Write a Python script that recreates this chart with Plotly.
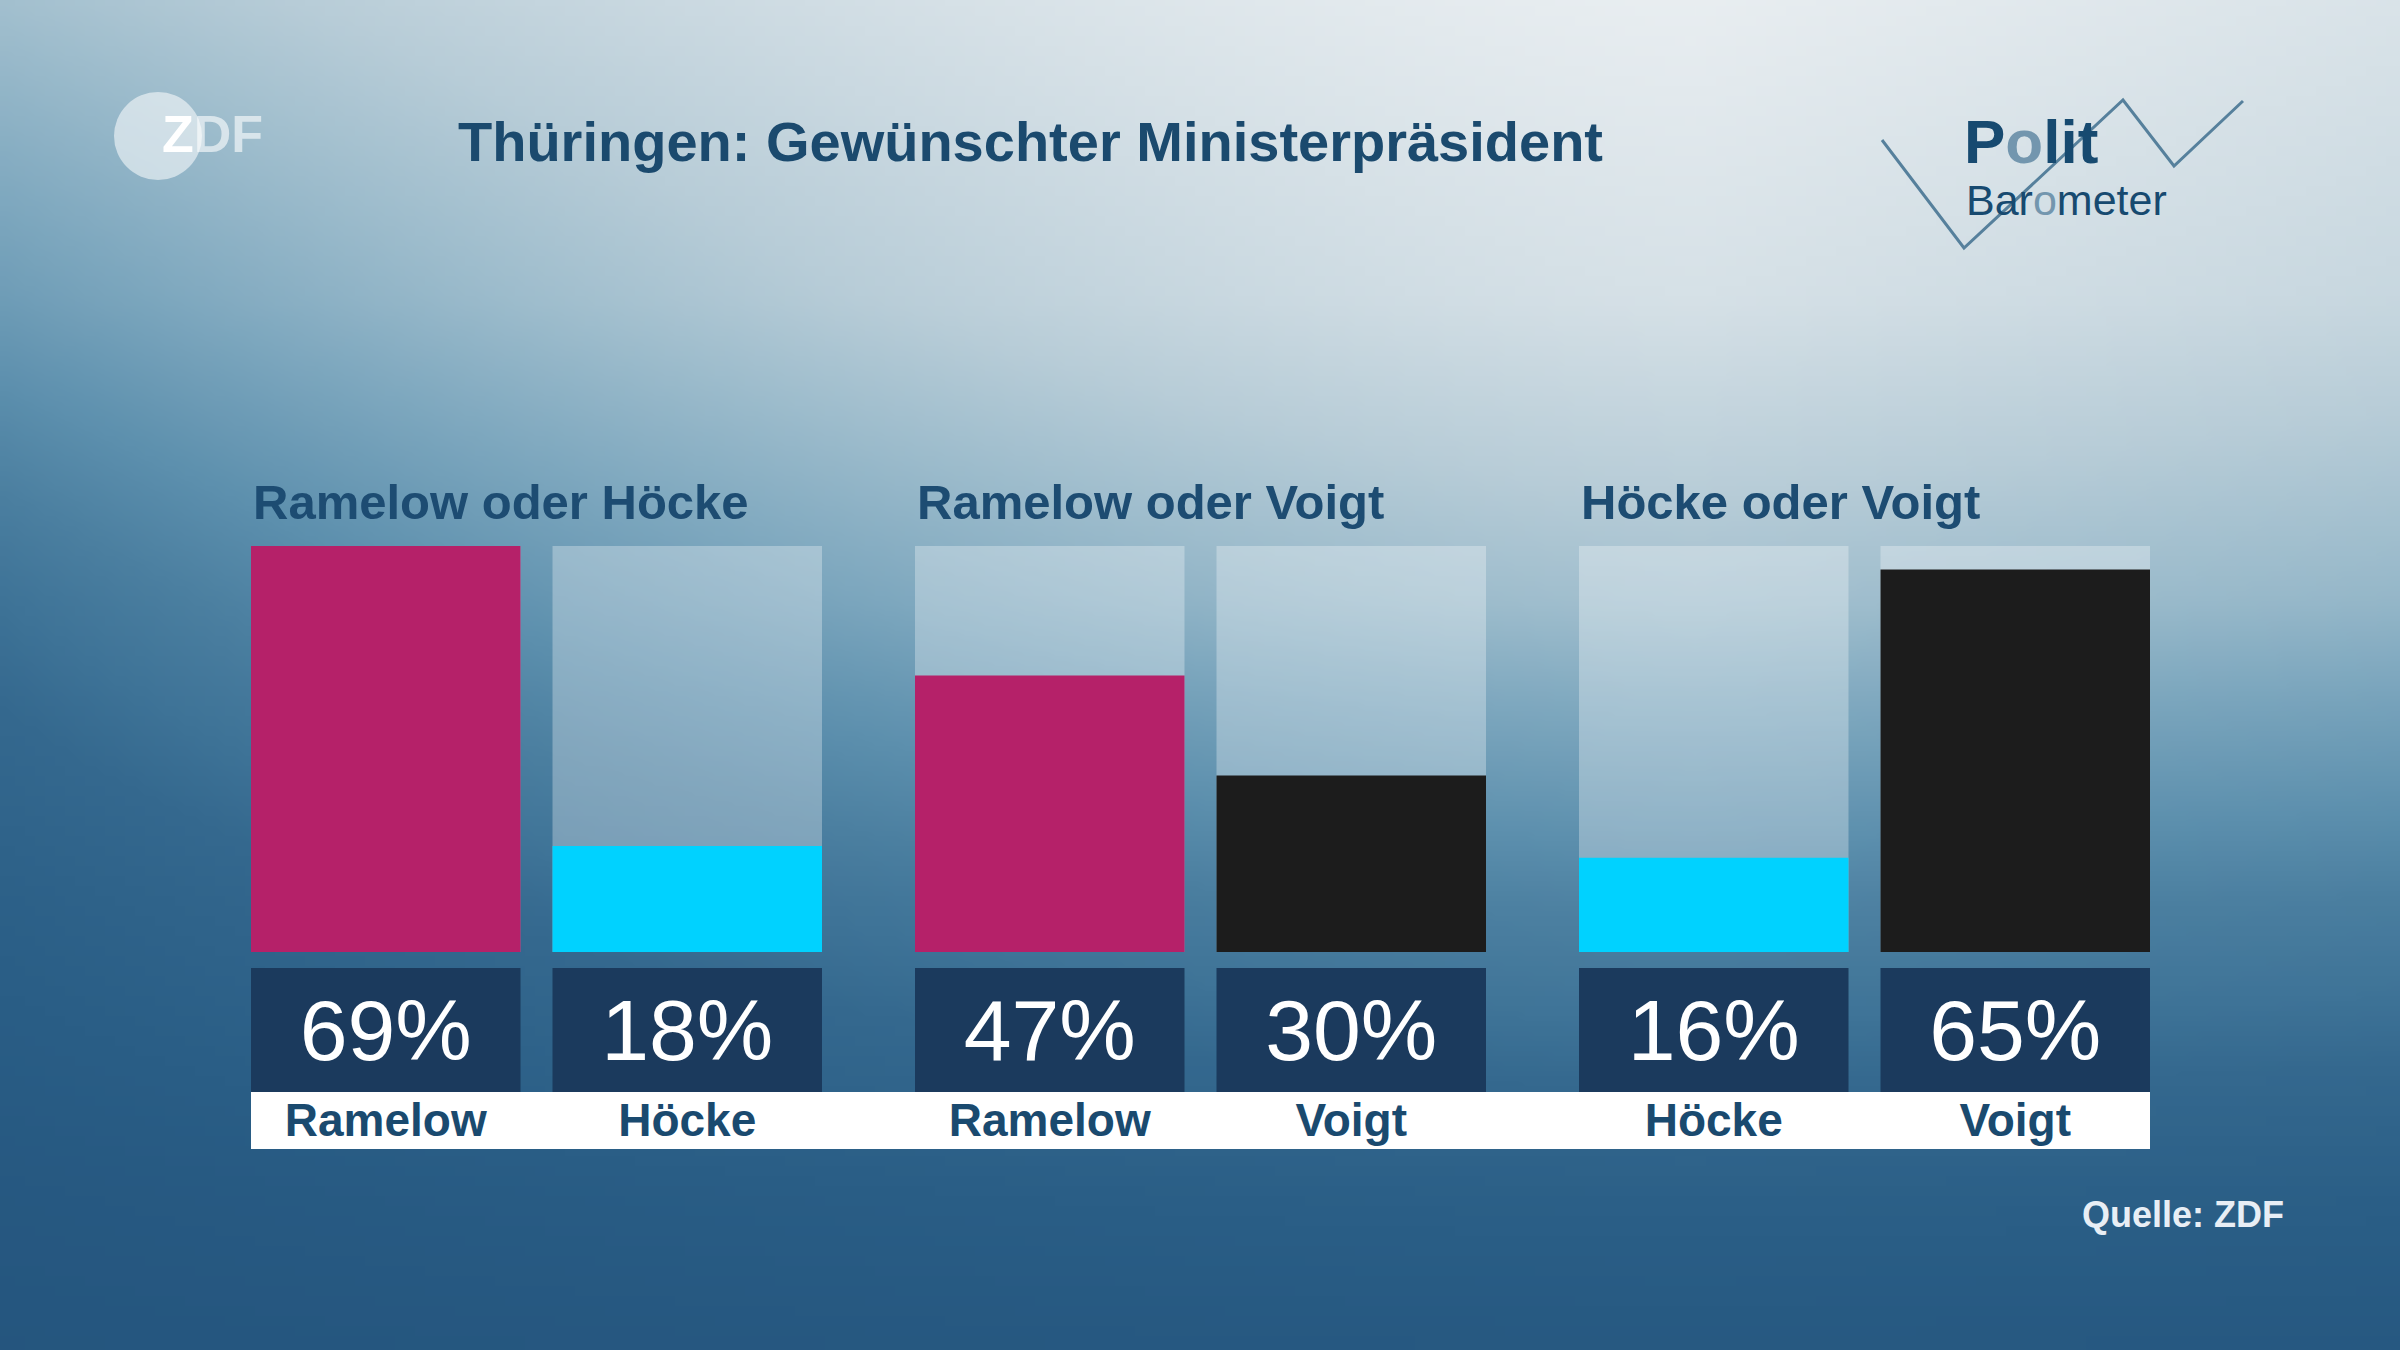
import base64
import struct
import zlib

import numpy as np
import plotly.graph_objects as go

# ---------------- data ----------------
title = "Thüringen: Gewünschter Ministerpräsident"
source = "Quelle: ZDF"
groups = ["Ramelow oder Höcke", "Ramelow oder Voigt", "Höcke oder Voigt"]
candidates = [["Ramelow", "Höcke"], ["Ramelow", "Voigt"], ["Höcke", "Voigt"]]
values = [[69, 18], [47, 30], [16, 65]]
party_colors = {"Ramelow": "#b52169", "Höcke": "#00d2ff", "Voigt": "#1c1c1c"}

# ---------------- geometry (pixels of the 2400x1350 canvas) ----------------
W, H = 2400, 1350
GROUP_X0, GROUP_PITCH, GROUP_W = 235, 664, 603
BAND = GROUP_W / 2
BAR_W = 269.5
BAR_TOP, BAR_BOTTOM = 546, 952
BOX_TOP, BOX_BOTTOM = 968, 1092
STRIP_BOTTOM = 1149


def fx(px):
    return px / W


def fy(py):
    return 1 - py / H


# ---------------- background gradient as an image ----------------
def png_data_uri(rgb):
    h, w, _ = rgb.shape
    raw = b"".join(b"\x00" + rgb[i].tobytes() for i in range(h))

    def chunk(tag, data):
        return (struct.pack(">I", len(data)) + tag + data
                + struct.pack(">I", zlib.crc32(tag + data) & 0xFFFFFFFF))

    png = (b"\x89PNG\r\n\x1a\n"
           + chunk(b"IHDR", struct.pack(">IIBBBBB", w, h, 8, 2, 0, 0, 0))
           + chunk(b"IDAT", zlib.compress(raw, 9))
           + chunk(b"IEND", b""))
    return "data:image/png;base64," + base64.b64encode(png).decode()


def hex_rgb(c):
    c = c.lstrip("#")
    return [int(c[i:i + 2], 16) for i in (0, 2, 4)]


gw, gh = 240, 135
xs = (np.arange(gw) + 0.5) * W / gw
ys = (np.arange(gh) + 0.5) * H / gh
v = np.interp(ys, [0, 300, 600, 700, 900, 1200, 1350],
              [0, 0.1, 0.33, 0.45, 0.66, 0.88, 0.95])[:, None]
left_f = np.clip((1700 - xs) / 1700, 0, None) ** 1.5
right_f = np.clip((xs - 1700) / 700, 0, None)
left_amp = (0.33 + 0.3 * np.minimum(ys / 600, 1))[:, None]
hterm = left_amp * left_f[None, :] + 0.08 * right_f[None, :]
level = 1 - (1 - v) * (1 - hterm)
stops = [0, 0.1, 0.25, 0.35, 0.47, 0.6, 0.68, 0.75, 0.8, 0.9, 1.0]
stop_cols = ["#e9eef1", "#d6e1e7", "#b8cdd8", "#9ebdcd", "#7ea8bf", "#5d90ae",
             "#4c80a1", "#3f7498", "#35698f", "#2a5e86", "#24547d"]
cols = np.array([hex_rgb(c) for c in stop_cols], dtype=float)
img = np.stack([np.interp(level, stops, cols[:, k]) for k in range(3)], axis=-1)
bg_uri = png_data_uri(np.clip(img, 0, 255).astype(np.uint8))

# ---------------- figure ----------------
vmax = max(max(v_) for v_ in values)
fig = go.Figure()
layout_axes = {}
FONT = "Liberation Sans"

for g in range(3):
    xa, xb = f"x{g + 2}", f"x{g + 5}"
    cats = candidates[g]
    fig.add_bar(x=cats, y=[vmax] * len(cats), xaxis=xa, yaxis="y2",
                marker=dict(color="rgba(255,255,255,0.30)", line=dict(width=0)),
                hoverinfo="skip", showlegend=False)
    fig.add_bar(x=cats, y=values[g], xaxis=xa, yaxis="y2",
                marker=dict(color=[party_colors[c] for c in cats], line=dict(width=0)),
                showlegend=False)
    fig.add_bar(x=cats, y=[1] * len(cats), xaxis=xb, yaxis="y3",
                marker=dict(color="#1b3a5d", line=dict(width=0)),
                text=[f"{val}%" for val in values[g]], textposition="inside",
                insidetextanchor="middle", constraintext="none",
                textfont=dict(size=86, color="white", family=FONT),
                hoverinfo="skip", showlegend=False)
    d0 = GROUP_X0 + g * GROUP_PITCH
    dom = [fx(d0), fx(d0 + GROUP_W)]
    layout_axes[f"xaxis{g + 2}"] = dict(domain=dom, range=[-0.5, 1.5], type="category",
                                        anchor="y2", visible=False, fixedrange=True)
    layout_axes[f"xaxis{g + 5}"] = dict(domain=dom, range=[-0.5, 1.5], type="category",
                                        anchor="y3", showticklabels=True, ticks="",
                                        showline=False, showgrid=False, zeroline=False,
                                        ticklabelstandoff=-3, fixedrange=True,
                                        tickfont=dict(size=46, color="#1a4a6f", family=FONT,
                                                      weight="bold"))

layout_axes["yaxis2"] = dict(domain=[fy(BAR_BOTTOM), fy(BAR_TOP)], range=[0, vmax],
                             visible=False, anchor="x2", fixedrange=True)
layout_axes["yaxis3"] = dict(domain=[fy(BOX_BOTTOM), fy(BOX_TOP)], range=[0, 1],
                             visible=False, anchor="x5", fixedrange=True)

strip_x0 = GROUP_X0 + (BAND - BAR_W) / 2
strip_x1 = GROUP_X0 + 2 * GROUP_PITCH + GROUP_W - (BAND - BAR_W) / 2

# zigzag of the Politbarometer logo
zig = [(1882, 140), (1964, 248), (2123, 100), (2174, 166), (2243, 101)]
zig_path = "M " + " L ".join(f"{fx(x):.5f},{fy(y):.5f}" for x, y in zig)

shapes = [
    dict(type="rect", xref="paper", yref="paper", x0=fx(strip_x0), x1=fx(strip_x1),
         y0=fy(STRIP_BOTTOM), y1=fy(BOX_BOTTOM), fillcolor="white",
         line=dict(width=0), layer="below"),
    dict(type="circle", xref="paper", yref="paper", x0=fx(114), x1=fx(202),
         y0=fy(180), y1=fy(92), fillcolor="rgba(255,255,255,0.55)",
         line=dict(width=0), layer="below"),
    dict(type="path", xref="paper", yref="paper", path=zig_path,
         line=dict(color="#56809c", width=3), layer="below"),
]

dark = "#1b4a6e"
annotations = [
    dict(text=f"<b>{title}</b>", x=fx(456), y=fy(141), xanchor="left", yanchor="middle",
         font=dict(size=56, color=dark, family=FONT)),
    dict(text=f"<b>{source}</b>", x=fx(2286), y=fy(1214), xanchor="right", yanchor="middle",
         font=dict(size=36, color="#e8eef5", family=FONT)),
    dict(text="<b>Z<span style='color:rgba(255,255,255,0.6)'>DF</span></b>",
         x=fx(160), y=fy(134), xanchor="left", yanchor="middle",
         font=dict(size=52, color="white", family=FONT)),
    dict(text="<b>P<span style='color:#7396ae'>o</span>lit</b>",
         x=fx(1962), y=fy(142), xanchor="left", yanchor="middle",
         font=dict(size=62, color="#174a70", family=FONT)),
    dict(text="Bar<span style='color:#7396ae'>o</span>meter",
         x=fx(1964), y=fy(200), xanchor="left", yanchor="middle",
         font=dict(size=43, color="#174a70", family=FONT)),
]
for g in range(3):
    annotations.append(dict(text=f"<b>{groups[g]}</b>",
                            x=fx(strip_x0 + g * GROUP_PITCH), y=fy(502),
                            xanchor="left", yanchor="middle",
                            font=dict(size=49, color="#1d4c72", family=FONT)))
for a in annotations:
    a.update(xref="paper", yref="paper", showarrow=False)

fig.update_layout(
    width=W, height=H, margin=dict(l=0, r=0, t=0, b=0),
    paper_bgcolor="#5d90ae", plot_bgcolor="rgba(0,0,0,0)",
    barmode="overlay", bargap=1 - BAR_W / BAND,
    showlegend=False,
    xaxis=dict(visible=False), yaxis=dict(visible=False),
    images=[dict(source=bg_uri, xref="paper", yref="paper", x=0, y=1, sizex=1, sizey=1,
                 sizing="stretch", xanchor="left", yanchor="top", layer="below")],
    shapes=shapes, annotations=annotations,
    font=dict(family=FONT),
    **layout_axes,
)

fig.write_html("out.html", config={"displayModeBar": False},
               post_script="document.body.style.margin='0';document.body.style.padding='0';")
